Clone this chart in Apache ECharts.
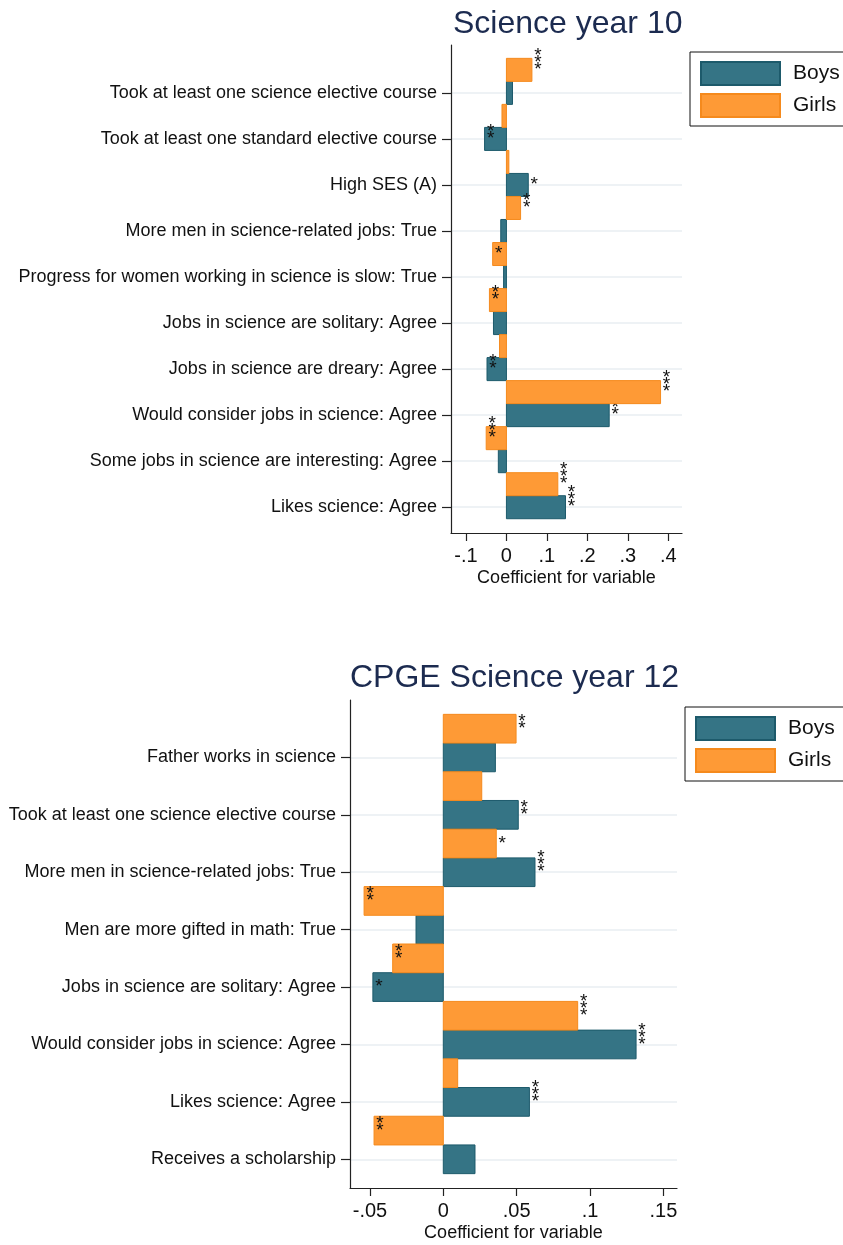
<!DOCTYPE html>
<html>
<head>
<meta charset="utf-8">
<script src="https://cdn.jsdelivr.net/npm/echarts@6/dist/echarts.min.js"></script>
<style>
  body { margin: 0; background: #fff; }
  #chart { width: 843px; height: 1245px; }
</style>
</head>
<body>
<div id="chart"></div>
<script>
// Science year 10 (top panel), categories top to bottom
var sci10Cats = [
  "Took at least one science elective course",
  "Took at least one standard elective course",
  "High SES (A)",
  "More men in science-related jobs: True",
  "Progress for women working in science is slow: True",
  "Jobs in science are solitary: Agree",
  "Jobs in science are dreary: Agree",
  "Would consider jobs in science: Agree",
  "Some jobs in science are interesting: Agree",
  "Likes science: Agree"
];
var sci10Boys = [0.015, -0.054, 0.054, -0.014, -0.007, -0.032, -0.048, 0.254, -0.020, 0.146];
var sci10Girls = [0.063, -0.011, 0.006, 0.035, -0.034, -0.042, -0.017, 0.381, -0.050, 0.127];
var sci10BoysStars = ["", "**", "*", "", "", "", "**", "**", "", "***"];
var sci10GirlsStars = ["***", "", "", "**", "*", "**", "", "***", "***", "***"];
var sci10XTicks = [-0.1, 0, 0.1, 0.2, 0.3, 0.4];

// CPGE Science year 12 (bottom panel)
var cpgeCats = [
  "Father works in science",
  "Took at least one science elective course",
  "More men in science-related jobs: True",
  "Men are more gifted in math: True",
  "Jobs in science are solitary: Agree",
  "Would consider jobs in science: Agree",
  "Likes science: Agree",
  "Receives a scholarship"
];
var cpgeBoys = [0.0355, 0.0511, 0.0625, -0.0186, -0.048, 0.1314, 0.0587, 0.0216];
var cpgeGirls = [0.0496, 0.0262, 0.0361, -0.054, -0.0345, 0.0916, 0.0098, -0.0472];
var cpgeBoysStars = ["", "**", "***", "", "*", "***", "***", ""];
var cpgeGirlsStars = ["**", "", "*", "**", "**", "***", "", "**"];
var cpgeXTicks = [-0.05, 0, 0.05, 0.1, 0.15];

var FONT = '"Liberation Sans", Arial, Helvetica, sans-serif';
var boysFill = "#357485", boysLine = "#1d5a6b";
var girlsFill = "#fe9a36", girlsLine = "#f58a1d";

// bar half height in category units (boys at k, girls at k - 0.5)
var HALF = 0.25;

function barRenderer(fill, stroke, stars) {
  return function (params, api) {
    var v = api.value(0);
    var pos = api.value(1);
    var p0 = api.coord([0, pos - HALF]);
    var p1 = api.coord([v, pos + HALF]);
    var children = [{
      type: "rect",
      shape: {
        x: Math.min(p0[0], p1[0]),
        y: Math.min(p0[1], p1[1]),
        width: Math.abs(p1[0] - p0[0]),
        height: Math.abs(p1[1] - p0[1])
      },
      style: { fill: fill, stroke: stroke, lineWidth: 1 }
    }];
    var s = stars[params.dataIndex] || "";
    var end = api.coord([v, pos]);
    for (var i = 0; i < s.length; i++) {
      children.push({
        type: "text",
        x: end[0] + 6,
        y: end[1] - 7 * i,
        style: {
          text: "*", fill: "#111", font: "19px " + FONT,
          align: "center", verticalAlign: "middle"
        }
      });
    }
    return { type: "group", children: children };
  };
}

function tickFmt(v) {
  return String(+v.toFixed(4)).replace("0.", ".");
}

function range(n) {
  var a = [];
  for (var i = 0; i < n; i++) a.push(i);
  return a;
}

function yAxisFor(idx, cats, min, max) {
  var ticks = range(cats.length);
  return {
    type: "value", gridIndex: idx, inverse: true, min: min, max: max,
    axisLine: { show: true, onZero: false, lineStyle: { color: "#222", width: 1.2 } },
    axisTick: { show: true, length: 9, customValues: ticks, lineStyle: { color: "#222", width: 1.2 } },
    axisLabel: {
      customValues: ticks, margin: 14, fontSize: 18, color: "#111", fontFamily: FONT,
      formatter: function (v) { return cats[Math.round(v)]; }
    },
    splitLine: { show: true, lineStyle: { color: "#e8eef2", width: 1.6 } }
  };
}

function xAxisFor(idx, ticks, min, max) {
  return {
    type: "value", gridIndex: idx, min: min, max: max,
    name: "Coefficient for variable", nameLocation: "middle", nameGap: 36,
    nameTextStyle: { fontSize: 18, color: "#111", fontFamily: FONT },
    axisLine: { show: true, onZero: false, lineStyle: { color: "#222", width: 1.2 } },
    axisTick: { show: true, length: 8, customValues: ticks, lineStyle: { color: "#222", width: 1.2 } },
    axisLabel: {
      customValues: ticks, margin: 13, fontSize: 20, color: "#111", fontFamily: FONT,
      formatter: tickFmt
    },
    splitLine: { show: false }
  };
}

function legendFor(left, top) {
  return {
    orient: "vertical", left: left, top: top,
    padding: [9, 30, 8, 10], itemGap: 7,
    itemWidth: 79, itemHeight: 23, icon: "rect",
    borderColor: "#111", borderWidth: 1,
    textStyle: { fontSize: 21, color: "#111", fontFamily: FONT, padding: [0, 0, 0, 8] },
    data: ["Boys", "Girls"]
  };
}

function seriesFor(name, idx, values, offset, fill, stroke, stars) {
  return {
    type: "custom", name: name, xAxisIndex: idx, yAxisIndex: idx,
    itemStyle: { color: fill, borderColor: stroke, borderWidth: 1 },
    encode: { x: 0, y: 1 },
    renderItem: barRenderer(fill, stroke, stars),
    data: values.map(function (v, k) { return [v, k + offset]; }),
    silent: true
  };
}

var chart = echarts.init(document.getElementById("chart"), null, { renderer: "canvas" });
chart.setOption({
  animation: false,
  backgroundColor: "#fff",
  title: [
    { text: "Science year 10", left: 453, top: 8, padding: 0,
      textStyle: { fontSize: 32, fontWeight: "normal", color: "#1c2b50", fontFamily: FONT } },
    { text: "CPGE Science year 12", left: 350, top: 662, padding: 0,
      textStyle: { fontSize: 32, fontWeight: "normal", color: "#1c2b50", fontFamily: FONT } }
  ],
  legend: [legendFor(690, 52), legendFor(685, 707)],
  grid: [
    { left: 451, top: 45, width: 231, height: 488 },
    { left: 350, top: 700, width: 327, height: 488 }
  ],
  xAxis: [
    xAxisFor(0, sci10XTicks, -0.137, 0.434),
    xAxisFor(1, cpgeXTicks, -0.0636, 0.1593)
  ],
  yAxis: [
    yAxisFor(0, sci10Cats, -1.04, 9.56),
    yAxisFor(1, cpgeCats, -1, 7.5)
  ],
  series: [
    seriesFor("Boys", 0, sci10Boys, 0, boysFill, boysLine, sci10BoysStars),
    seriesFor("Girls", 0, sci10Girls, -0.5, girlsFill, girlsLine, sci10GirlsStars),
    seriesFor("Boys", 1, cpgeBoys, 0, boysFill, boysLine, cpgeBoysStars),
    seriesFor("Girls", 1, cpgeGirls, -0.5, girlsFill, girlsLine, cpgeGirlsStars)
  ]
});
</script>
</body>
</html>
